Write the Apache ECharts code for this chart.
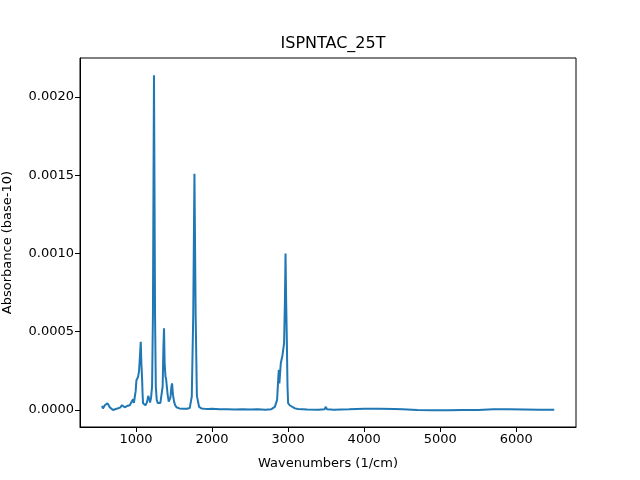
<!DOCTYPE html>
<html>
<head>
<meta charset="utf-8">
<script src="https://cdn.jsdelivr.net/npm/echarts@6/dist/echarts.min.js"></script>
<style>
  html, body { margin: 0; padding: 0; background: #fff; }
  #chart { width: 640px; height: 480px; }
</style>
</head>
<body>
<div id="chart"></div>
<script>
// spectrum
var wavenumbers = [
  553, 565, 575, 590, 605, 624, 640, 654, 675, 697, 720, 745, 763, 790, 816, 835, 851, 880, 917, 940,
  961, 972, 983, 995, 1005, 1018, 1026, 1040, 1052, 1062, 1070, 1079, 1086, 1092, 1110, 1124, 1140, 1150, 1160, 1167,
  1175, 1184, 1198, 1211, 1222, 1230, 1236, 1242, 1250, 1260, 1272, 1285, 1299, 1320, 1334, 1350, 1360, 1368, 1376, 1387,
  1395, 1404, 1415, 1430, 1445, 1453, 1465, 1474, 1485, 1500, 1515, 1532, 1570, 1618, 1670, 1706, 1733, 1752, 1768, 1784,
  1800, 1829, 1860, 1900, 1950, 2000, 2100, 2200, 2300, 2400, 2500, 2600, 2700, 2780, 2825, 2855, 2870, 2878, 2885, 2891,
  2904, 2926, 2947, 2958, 2966, 2974, 2983, 2992, 3000, 3020, 3045, 3090, 3130, 3250, 3400, 3480, 3496, 3512, 3600, 3800,
  4000, 4200, 4400, 4500, 4700, 4900, 5100, 5300, 5500, 5700, 5900, 6100, 6300, 6500
];
var absorbance = [
  0.000026, 0.000010, 0.000004, 0.000030, 0.000020, 0.000043, 0.000030, 0.000017, 0.000008, 0.000000,
  0.000005, 0.000008, 0.000011, 0.000015, 0.000030, 0.000020, 0.000017, 0.000025, 0.000030, 0.000040,
  0.000068, 0.000045, 0.000040, 0.000120, 0.000190, 0.000200, 0.000210, 0.000250, 0.000350, 0.000436,
  0.000300, 0.000210, 0.000100, 0.000043, 0.000035, 0.000030, 0.000045, 0.000064, 0.000090, 0.000096,
  0.000070, 0.000047, 0.000080, 0.000150, 0.000600, 0.001500, 0.002140, 0.001500, 0.000600, 0.000150,
  0.000064, 0.000045, 0.000040, 0.000045, 0.000053, 0.000150, 0.000400, 0.000522, 0.000300, 0.000213,
  0.000200, 0.000190, 0.000100, 0.000053, 0.000065, 0.000080, 0.000150, 0.000170, 0.000100, 0.000053,
  0.000030, 0.000017, 0.000010, 0.000008, 0.000008, 0.000012, 0.000085, 0.000600, 0.001510, 0.000600,
  0.000090, 0.000020, 0.000010, 0.000008, 0.000006, 0.000008, 0.000004, 0.000005, 0.000003, 0.000004,
  0.000003, 0.000004, 0.000002, 0.000005, 0.000020, 0.000064, 0.000200, 0.000256, 0.000170, 0.000170,
  0.000300, 0.000350, 0.000426, 0.000700, 0.001000, 0.000700, 0.000450, 0.000150, 0.000043, 0.000030,
  0.000020, 0.000010, 0.000006, 0.000003, 0.000002, 0.000005, 0.000020, 0.000004, 0.000002, 0.000004,
  0.000007, 0.000008, 0.000006, 0.000004, 0.000000, -0.000002, -0.000002, -0.000001, 0.000000, 0.000004,
  0.000004, 0.000003, 0.000002, 0.000002
];
var xTicks = [1000, 2000, 3000, 4000, 5000, 6000];
var yTicks = [0, 0.0005, 0.001, 0.0015, 0.002];

var points = wavenumbers.map(function (w, i) { return [w, absorbance[i]]; });

var font = 'DejaVu Sans';
var chart = echarts.init(document.getElementById('chart'));
chart.setOption({
  animation: false,
  backgroundColor: '#fff',
  title: {
    text: 'ISPNTAC_25T',
    left: 328,
    textAlign: 'center',
    top: 31,
    textStyle: { fontFamily: font, fontSize: 16, fontWeight: 'normal', color: '#000' }
  },
  grid: {
    left: 80, right: 64, top: 58, bottom: 53,
    outerBoundsMode: 'none',
    containLabel: false,
    show: true, borderColor: '#000', borderWidth: 1
  },
  xAxis: {
    type: 'value',
    min: 263, max: 6786,
    name: 'Wavenumbers (1/cm)',
    nameLocation: 'middle',
    nameGap: 30,
    nameTextStyle: { fontFamily: font, fontSize: 13, color: '#000' },
    axisLine: { show: true, onZero: false, lineStyle: { color: '#000', width: 1 } },
    axisTick: { show: true, inside: false, length: 5, customValues: xTicks, lineStyle: { color: '#000' } },
    axisLabel: {
      customValues: xTicks,
      fontFamily: font, fontSize: 13, color: '#000', margin: 6,
      formatter: function (v) { return String(v); }
    },
    splitLine: { show: false }
  },
  yAxis: {
    type: 'value',
    min: -0.000109, max: 0.00225,
    name: 'Absorbance (base-10)',
    nameLocation: 'middle',
    nameGap: 66,
    nameTextStyle: { fontFamily: font, fontSize: 13, color: '#000' },
    axisLine: { show: true, onZero: false, lineStyle: { color: '#000', width: 1 } },
    axisTick: { show: true, inside: false, length: 5, customValues: yTicks, lineStyle: { color: '#000' } },
    axisLabel: {
      customValues: yTicks,
      fontFamily: font, fontSize: 13, color: '#000', margin: 6,
      formatter: function (v) { return v.toFixed(4); }
    },
    splitLine: { show: false }
  },
  series: [{
    type: 'line',
    data: points,
    showSymbol: false,
    lineStyle: { color: '#1f77b4', width: 2 },
    itemStyle: { color: '#1f77b4' }
  }]
});
</script>
</body>
</html>
